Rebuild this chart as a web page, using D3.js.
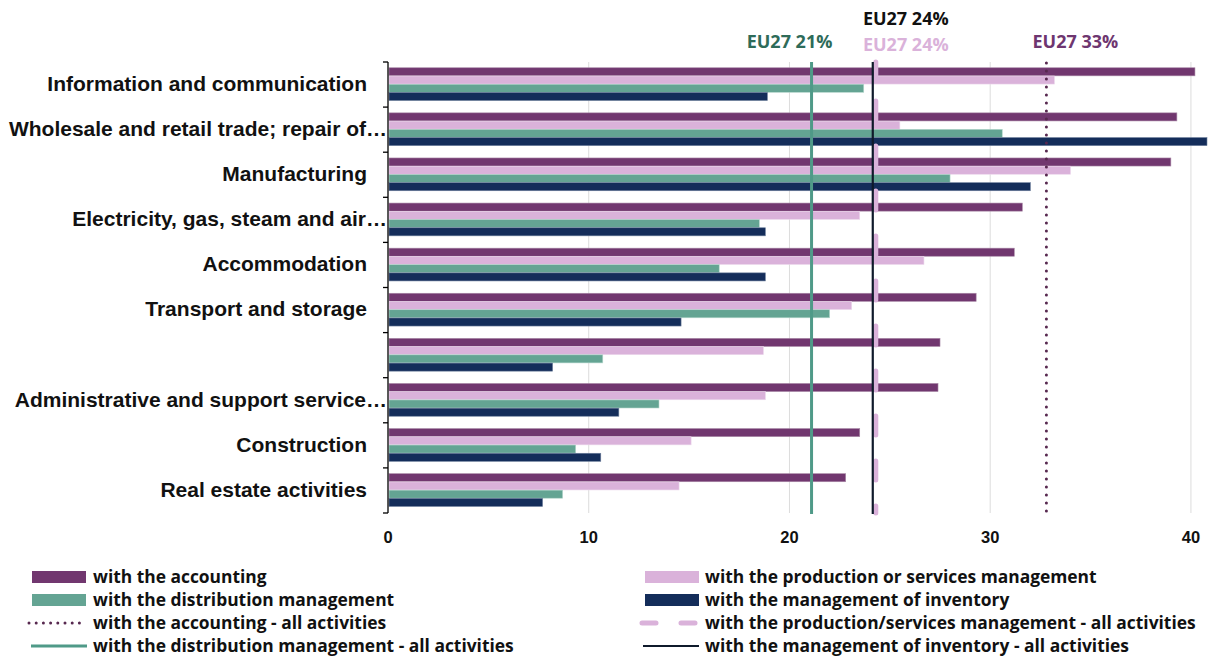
<!DOCTYPE html>
<html>
<head>
<meta charset="utf-8">
<script src="https://cdn.jsdelivr.net/npm/d3@7"></script>
<style>
  body { margin: 0; background: #fff; }
  svg { display: block; }
</style>
</head>
<body>
<script>
// chart data
var categories = ["Information and communication", "Wholesale and retail trade; repair of\u2026", "Manufacturing",
  "Electricity, gas, steam and air\u2026", "Accommodation", "Transport and storage", "",
  "Administrative and support service\u2026", "Construction", "Real estate activities"];
var accounting   = [40.2, 39.3, 39.0, 31.6, 31.2, 29.3, 27.5, 27.4, 23.5, 22.8];
var production   = [33.2, 25.5, 34.0, 23.5, 26.7, 23.1, 18.7, 18.8, 15.1, 14.5];
var distribution = [23.7, 30.6, 28.0, 18.5, 16.5, 22.0, 10.7, 13.5, 9.35, 8.7];
var inventory    = [18.9, 40.8, 32.0, 18.8, 18.8, 14.6, 8.2, 11.5, 10.6, 7.7];
var xTicks = [0, 10, 20, 30, 40];
// EU27 averages (all activities)
var euAccounting = 32.8, euProduction = 24.3, euDistribution = 21.1, euInventory = 24.15;
var euLabels = ["EU27 33%", "EU27 24%", "EU27 21%", "EU27 24%"];
var seriesNames = ["with the accounting", "with the production or services management",
  "with the distribution management", "with the management of inventory"];
var lineNames = ["with the accounting - all activities", "with the production/services management - all activities",
  "with the distribution management - all activities", "with the management of inventory - all activities"];

var colors = ["#71376f", "#dab2da", "#64a493", "#142d5a"];
var W = 1210, H = 658;
var pLeft = 388, pRight = 1209, pTop = 62, pBottom = 513;

var svg = d3.select("body").append("svg").attr("width", W).attr("height", H);

var x = d3.scaleLinear().domain([0, 40.9]).range([pLeft, pRight]);
var y = d3.scaleBand().domain(d3.range(categories.length)).range([pTop, pBottom]);
var inner = d3.scaleBand().domain(d3.range(4)).range([5.6, y.bandwidth() - 6.4]).padding(0.02);

// gridlines
svg.append("g").selectAll("line").data(xTicks.slice(1)).enter().append("line")
  .attr("x1", function (d) { return x(d); }).attr("x2", function (d) { return x(d); })
  .attr("y1", pTop).attr("y2", pBottom)
  .attr("stroke", "#dcdcdc").attr("stroke-width", 1);

// bars
var series = [accounting, production, distribution, inventory];
var strokes = ["#a888a6", "#ecd8ec", "#b5d6cc", "#6d7f9c"];
series.forEach(function (vals, s) {
  svg.append("g").selectAll("rect").data(vals).enter().append("rect")
    .attr("x", x(0) + 1)
    .attr("y", function (d, i) { return y(i) + inner(s); })
    .attr("width", function (d) { return x(d) - x(0) - 1; })
    .attr("height", inner.bandwidth())
    .attr("fill", colors[s])
    .attr("stroke", strokes[s]).attr("stroke-width", 0.6);
});

// EU27 reference lines
svg.append("line").attr("x1", x(euProduction)).attr("x2", x(euProduction))
  .attr("y1", pTop).attr("y2", pBottom)
  .attr("stroke", "#dab2da").attr("stroke-width", 5).attr("stroke-linecap", "round")
  .attr("stroke-dasharray", "19,26").attr("stroke-dashoffset", 6);
svg.append("line").attr("x1", x(euDistribution)).attr("x2", x(euDistribution))
  .attr("y1", pTop).attr("y2", pBottom + 1)
  .attr("stroke", "#4f9a88").attr("stroke-width", 3);
svg.append("line").attr("x1", x(euInventory)).attr("x2", x(euInventory))
  .attr("y1", pTop).attr("y2", pBottom + 1)
  .attr("stroke", "#0f1a2b").attr("stroke-width", 2.2);
svg.append("line").attr("x1", x(euAccounting)).attr("x2", x(euAccounting))
  .attr("y1", pTop + 1).attr("y2", pBottom)
  .attr("stroke", "#57284f").attr("stroke-width", 3).attr("stroke-linecap", "round")
  .attr("stroke-dasharray", "0,8");

// y axis
var yAxis = svg.append("g");
yAxis.append("line").attr("x1", pLeft).attr("x2", pLeft).attr("y1", pTop).attr("y2", pBottom).attr("stroke", "#000").attr("stroke-width", 1.3);
yAxis.selectAll("line.tk").data(d3.range(categories.length + 1)).enter().append("line")
  .attr("class", "tk")
  .attr("x1", pLeft - 5).attr("x2", pLeft)
  .attr("y1", function (d) { return pTop + d * y.step(); })
  .attr("y2", function (d) { return pTop + d * y.step(); })
  .attr("stroke", "#000").attr("stroke-width", 1.3);
yAxis.selectAll("text").data(categories).enter().append("text")
  .attr("x", function (d) { return d.slice(-1) === "\u2026" ? pLeft - 1 : pLeft - 21; })
  .attr("y", function (d, i) { return y(i) + y.bandwidth() / 2 - 1; })
  .attr("dy", "0.35em").attr("text-anchor", "end")
  .attr("font-family", "Liberation Sans, Arial, sans-serif").attr("font-weight", "bold")
  .attr("font-size", 21).attr("fill", "#111")
  .text(function (d) { return d; });

// x tick labels
svg.append("g").selectAll("text").data(xTicks).enter().append("text")
  .attr("x", function (d) { return x(d); }).attr("y", 543)
  .attr("text-anchor", "middle")
  .attr("font-family", "Liberation Sans, Arial, sans-serif").attr("font-weight", "bold")
  .attr("font-size", 16.5).attr("fill", "#111")
  .text(function (d) { return d; });

// EU27 labels above the plot
var lblFont = "Open Sans, sans-serif";
function euLabel(txt, cx, cy, col) {
  svg.append("text").attr("x", cx).attr("y", cy).attr("text-anchor", "middle")
    .attr("font-family", lblFont).attr("font-weight", "bold").attr("font-size", 18)
    .attr("fill", col).text(txt);
}
euLabel(euLabels[3], x(euInventory) + 33, 25, "#111");
euLabel(euLabels[2], x(euDistribution) - 22, 48, "#2e6b59");
euLabel(euLabels[1], x(euProduction) + 30, 51, "#dab2da");
euLabel(euLabels[0], x(euAccounting) + 29, 48, "#6e3670");

// legend
var legFont = "Open Sans, sans-serif";
var cols = [[32, 93], [645, 705]];
var rows = [577, 600, 623, 646];
function legText(tx, ty, txt) {
  svg.append("text").attr("x", tx).attr("y", ty).attr("dy", "0.35em")
    .attr("font-family", legFont).attr("font-weight", "bold").attr("font-size", 17.4)
    .attr("fill", "#111").text(txt);
}
// bar swatches
[[0, 0, 0], [1, 1, 0], [2, 0, 1], [3, 1, 1]].forEach(function (a) {
  var c = cols[a[1]], r = rows[a[2]];
  svg.append("rect").attr("x", c[0]).attr("y", r - 6).attr("width", 54).attr("height", 12)
    .attr("fill", colors[a[0]]);
  legText(c[1], r, seriesNames[a[0]]);
});
// line swatches
svg.append("line").attr("x1", 29).attr("x2", 86).attr("y1", rows[2]).attr("y2", rows[2])
  .attr("stroke", "#57284f").attr("stroke-width", 3).attr("stroke-linecap", "round").attr("stroke-dasharray", "0,7.2");
legText(cols[0][1], rows[2], lineNames[0]);
svg.append("line").attr("x1", 31).attr("x2", 87).attr("y1", rows[3]).attr("y2", rows[3])
  .attr("stroke", "#4f9a88").attr("stroke-width", 3);
legText(cols[0][1], rows[3], lineNames[2]);
svg.append("line").attr("x1", 642).attr("x2", 699).attr("y1", rows[2]).attr("y2", rows[2])
  .attr("stroke", "#dab2da").attr("stroke-width", 5).attr("stroke-linecap", "round").attr("stroke-dasharray", "14,25");
legText(cols[1][1], rows[2], lineNames[1]);
svg.append("line").attr("x1", 643).attr("x2", 699).attr("y1", rows[3]).attr("y2", rows[3])
  .attr("stroke", "#0f1a2b").attr("stroke-width", 2.2);
legText(cols[1][1], rows[3], lineNames[3]);
</script>
</body>
</html>
